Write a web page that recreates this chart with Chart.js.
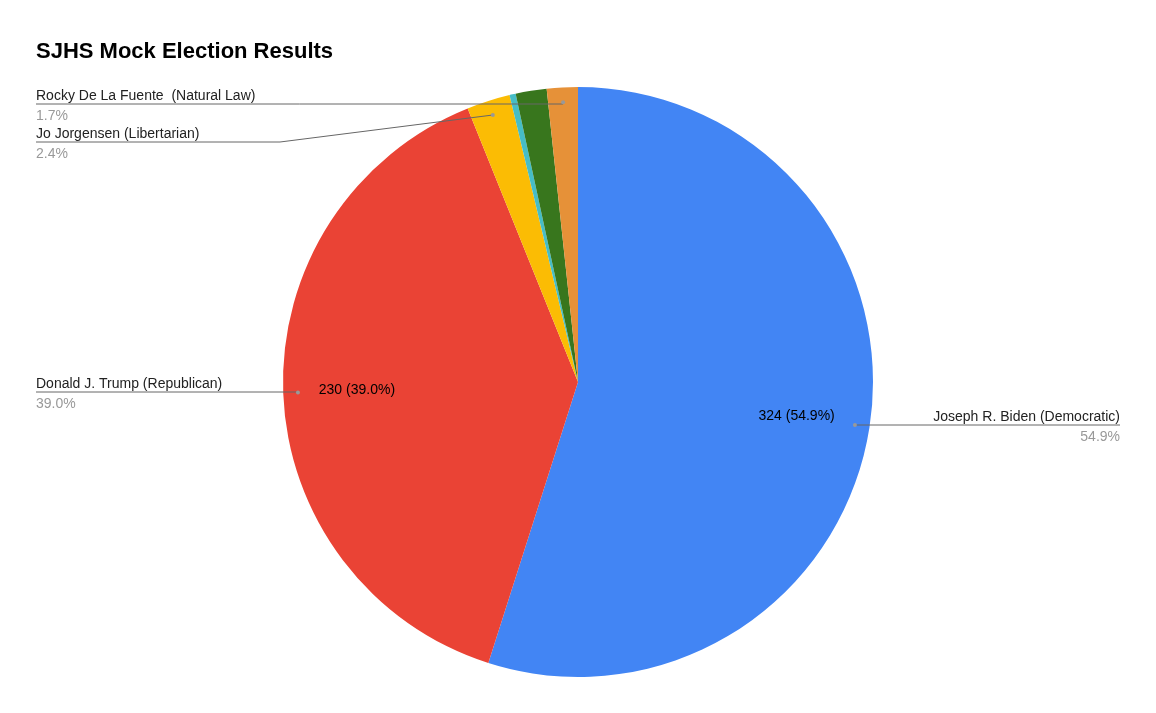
<!DOCTYPE html>
<html>
<head>
<meta charset="utf-8">
<script src="https://cdn.jsdelivr.net/npm/chart.js@4"></script>
<style>
  html, body { margin: 0; padding: 0; background: #fff; }
  #wrap { width: 1156px; height: 713px; position: relative; }
</style>
</head>
<body>
<div id="wrap"><canvas id="pieChart"></canvas></div>
<script>
const candidates = ['Joseph R. Biden (Democratic)', 'Donald J. Trump (Republican)', 'Jo Jorgensen (Libertarian)', 'Other', 'Howie Hawkins (Green)', 'Rocky De La Fuente  (Natural Law)'];
const votes = [324, 230, 14, 2, 10, 10];
const colors = ['#4285f4', '#ea4335', '#fbbc04', '#46bdc6', '#38761d', '#e69138'];

const total = votes.reduce((a, b) => a + b, 0);
const pct = v => (v / total * 100).toFixed(1) + '%';

// outside callouts: index, side, bend point (null = straight), line y
const callouts = [
    { i: 0, side: 'right', y: 425 },
    { i: 1, side: 'left', y: 392 },
    { i: 2, side: 'left', y: 142, bendX: 280 },
    { i: 5, side: 'left', y: 104 }
];

const labelPlugin = {
    id: 'labels',
    afterDraw(chart) {
        const ctx = chart.ctx;
        const arcs = chart.getDatasetMeta(0).data;
        ctx.save();
        ctx.fillStyle = '#000';
        ctx.font = 'bold 22px Arial, "Liberation Sans", sans-serif';
        ctx.textBaseline = 'alphabetic';
        ctx.fillText('SJHS Mock Election Results', 36, 58);

        ctx.font = '14px Arial, "Liberation Sans", sans-serif';
        // inside labels for the two big slices
        [0, 1].forEach(i => {
            const a = arcs[i];
            const mid = (a.startAngle + a.endAngle) / 2;
            const r = a.outerRadius * 0.75;
            ctx.textAlign = 'center';
            ctx.textBaseline = 'middle';
            ctx.fillStyle = '#000';
            ctx.fillText(votes[i] + ' (' + pct(votes[i]) + ')', a.x + Math.cos(mid) * r, a.y + Math.sin(mid) * r);
        });

        callouts.forEach(c => {
            const a = arcs[c.i];
            const mid = (a.startAngle + a.endAngle) / 2;
            const r = a.outerRadius * 0.95;
            const px = a.x + Math.cos(mid) * r;
            const py = a.y + Math.sin(mid) * r;
            ctx.strokeStyle = '#666';
            ctx.lineWidth = 1;
            ctx.beginPath();
            ctx.moveTo(px, py);
            if (c.bendX) ctx.lineTo(c.bendX, c.y);
            else ctx.lineTo(px, c.y);
            ctx.lineTo(c.side === 'right' ? 1120 : 36, c.y);
            ctx.stroke();
            ctx.fillStyle = '#999';
            ctx.beginPath();
            ctx.arc(px, py, 2, 0, Math.PI * 2);
            ctx.fill();

            const tx = c.side === 'right' ? 1120 : 36;
            ctx.textAlign = c.side === 'right' ? 'right' : 'left';
            ctx.textBaseline = 'alphabetic';
            ctx.fillStyle = '#222';
            ctx.fillText(candidates[c.i], tx, c.y - 4);
            ctx.fillStyle = '#999';
            ctx.fillText(pct(votes[c.i]), tx, c.y + 16);
        });
        ctx.restore();
    }
};

const pieCtx = document.getElementById('pieChart').getContext('2d');
const pieChart = new Chart(pieCtx, {
    type: 'pie',
    data: {
        labels: candidates,
        datasets: [{
            data: votes,
            backgroundColor: colors,
            borderWidth: 0
        }]
    },
    options: {
        responsive: true,
        maintainAspectRatio: false,
        animation: false,
        layout: { padding: { top: 87, bottom: 36, left: 0, right: 0 } },
        plugins: {
            legend: { display: false },
            tooltip: { enabled: false }
        }
    },
    plugins: [labelPlugin]
});
</script>
</body>
</html>
